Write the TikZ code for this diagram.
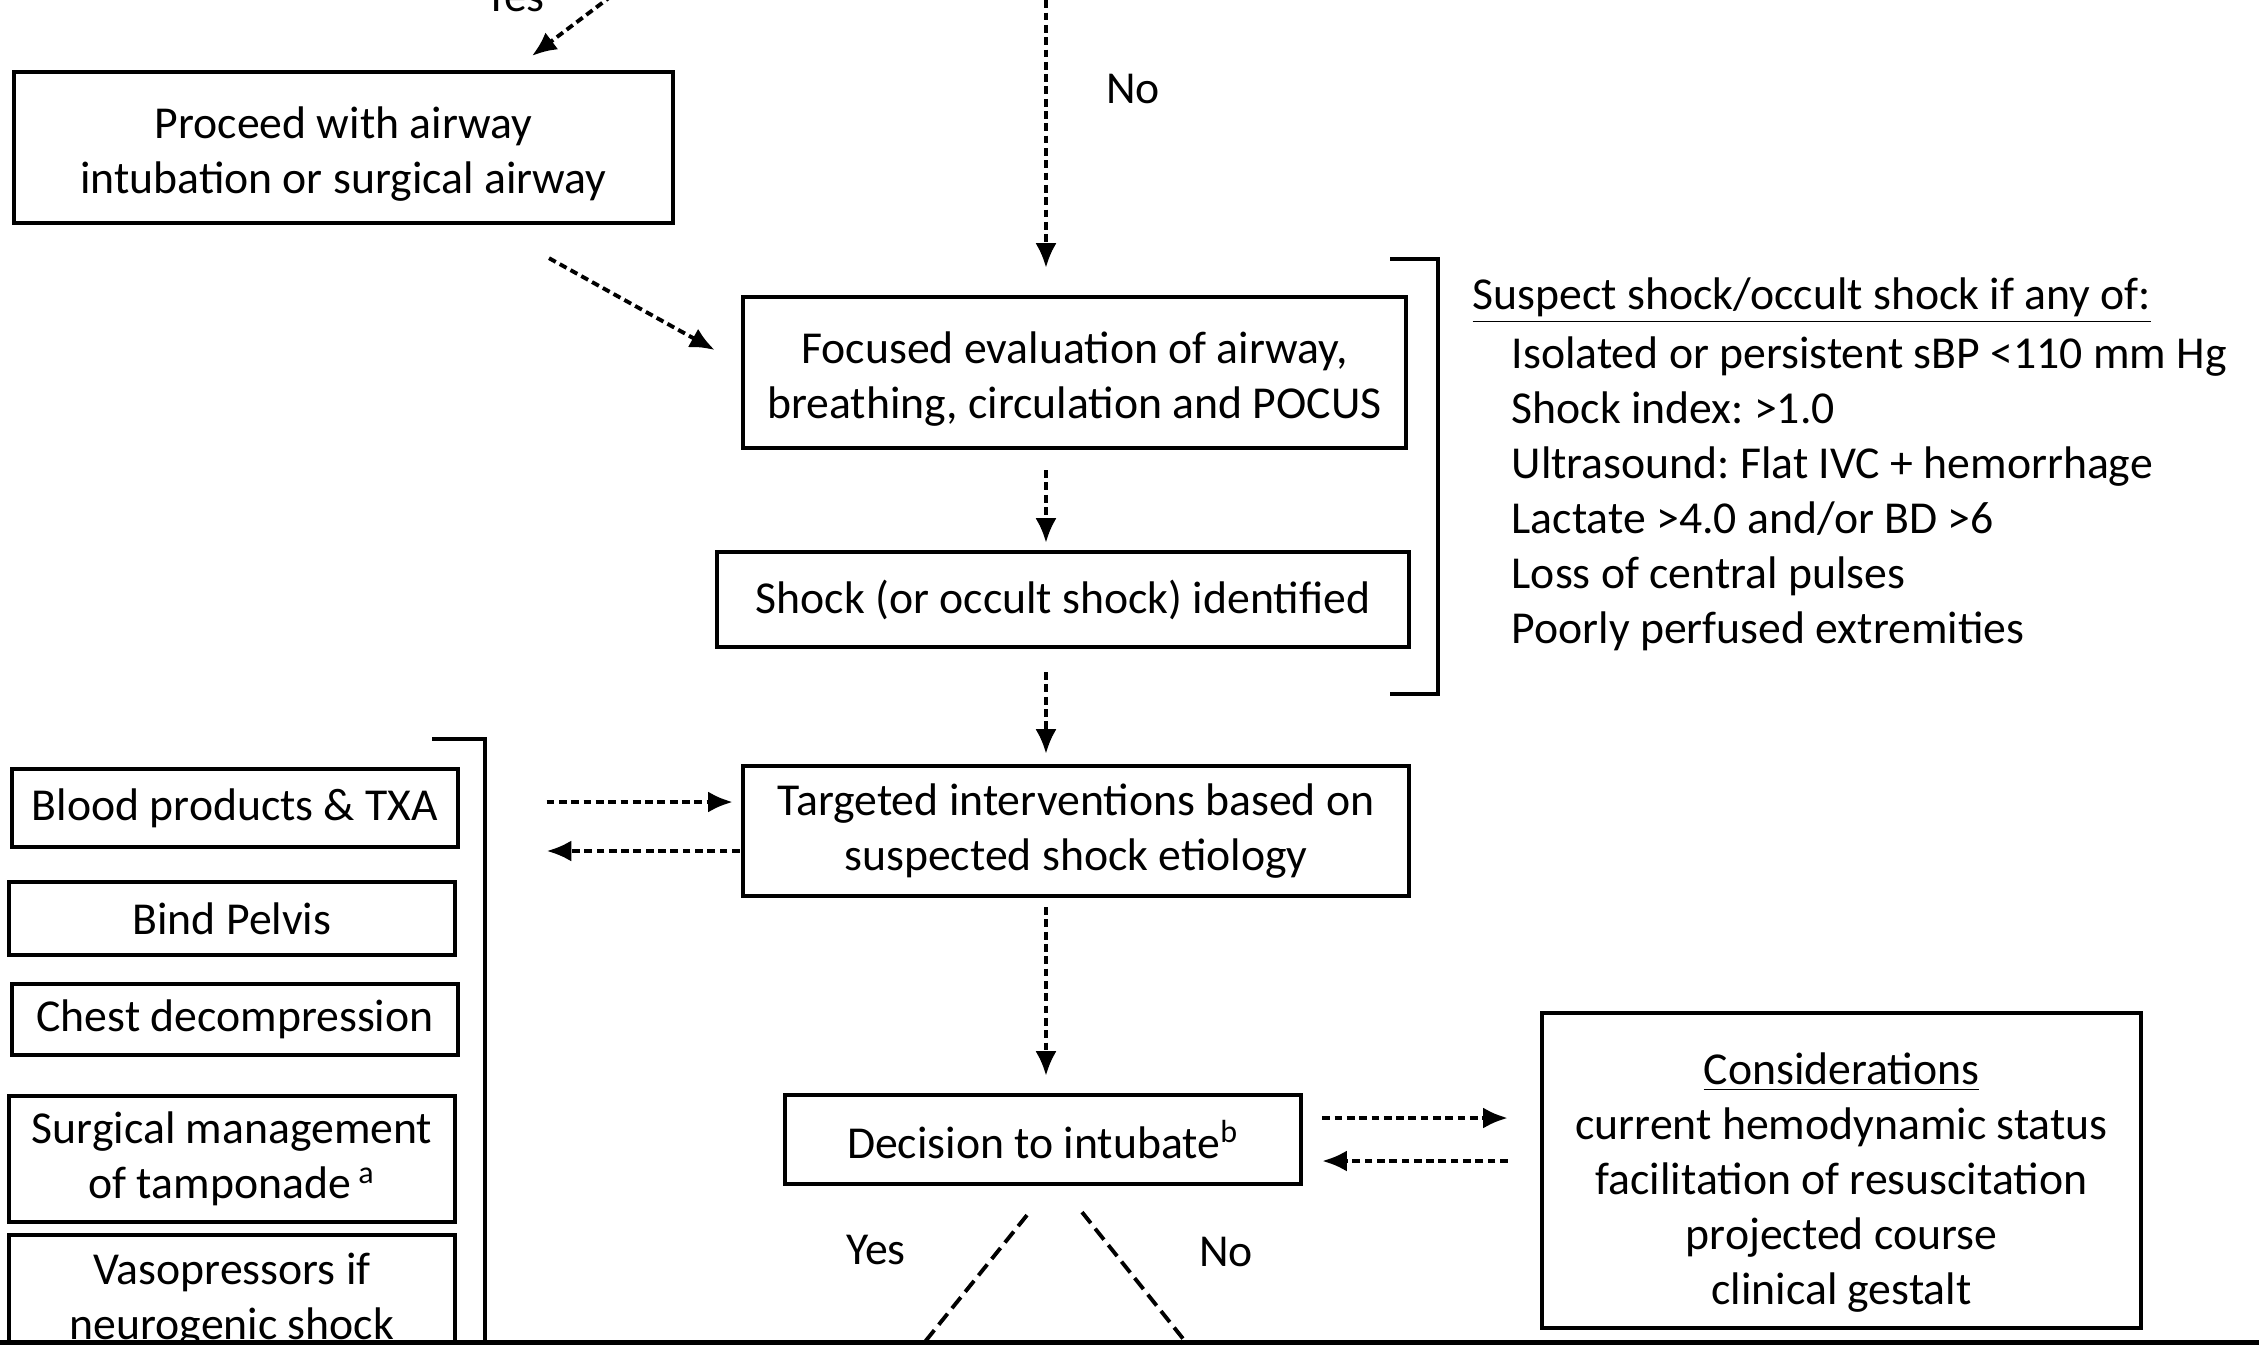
\documentclass[tikz,border=0pt]{standalone}
\usepackage{fontspec}
\setmainfont{Carlito}
\usetikzlibrary{arrows.meta,calc}
\frenchspacing

\begin{document}
\begin{tikzpicture}[x=0.01cm,y=-0.01cm,
    every node/.style={font=\fontsize{13}{15.65}\selectfont},
    box/.style={draw,line width=1.2pt,align=center,inner sep=0pt},
    link/.style={line width=1.1pt,dash pattern=on 2.2pt off 1.3pt,-{Latex[length=7pt,width=6pt]}},
    branch/.style={line width=1.1pt,dash pattern=on 4pt off 2pt},
    bracket/.style={line width=1.3pt}]
          \useasboundingbox (0,0) rectangle (2259,1345);
          \clip (0,0) rectangle (2259,1345);
          % main column
          \node[box,minimum width=6.59cm,minimum height=1.51cm] (prcd) at (343.5,147.5) {\rule{0pt}{0.45cm}Proceed with airway\\intubation or surgical airway};
          \node[box,minimum width=6.63cm,minimum height=1.51cm] (focus) at (1074.5,372.5) {\rule{0pt}{0.45cm}Focused evaluation of airway,\\breathing, circulation and POCUS};
          \node[box,minimum width=6.92cm,minimum height=0.95cm] (shock) at (1063,599.5) {Shock (or occult shock) identified};
          \node[box,minimum width=6.66cm,minimum height=1.30cm] (target) at (1076,831) {Targeted interventions based on\\suspected shock etiology};
          \node[box,minimum width=5.16cm,minimum height=0.89cm] (decide) at (1043,1139.5) {Decision to intubate\textsuperscript{b}};
          \node[box,minimum width=5.99cm,minimum height=3.15cm] (consid) at (1841.5,1170.5) {\rule{0pt}{0.55cm}\underline{Considerations}\\current hemodynamic status\\facilitation of resuscitation\\projected course\\clinical gestalt};
          % interventions
          \node[box,minimum width=4.46cm,minimum height=0.78cm] (blood) at (235,808) {Blood products \& TXA};
          \node[box,minimum width=4.46cm,minimum height=0.73cm] (pelvis) at (232,918.5) {Bind Pelvis};
          \node[box,minimum width=4.46cm,minimum height=0.71cm] (chest) at (235,1019.5) {Chest decompression};
          \node[box,minimum width=4.46cm,minimum height=1.26cm] (surg) at (232,1159) {Surgical management\\of tamponade\,\textsuperscript{a}};
          \node[box,minimum width=4.46cm,minimum height=1.30cm] (vaso) at (232,1300) {Vasopressors if\\neurogenic shock};
          % shock criteria
          \node[anchor=north west,align=left,inner sep=0pt] (suspect) at (1472,277) {\underline{Suspect shock/occult shock if any of:}\\[1pt]
            \hspace*{0.39cm}Isolated or persistent sBP <110 mm Hg\\
            \hspace*{0.39cm}Shock index: >1.0\\
            \hspace*{0.39cm}Ultrasound: Flat IVC + hemorrhage\\
            \hspace*{0.39cm}Lactate >4.0 and/or BD >6\\
            \hspace*{0.39cm}Loss of central pulses\\
            \hspace*{0.39cm}Poorly perfused extremities};
          % labels
          \node (yestoplbl) at (515,-3) {Yes};
          \node (notoplbl) at (1133,89) {No};
          \node (yeslbl) at (876,1250) {Yes};
          \node (nolbl) at (1226,1252) {No};
          % free ends
          \coordinate (yestop) at (622,-12);
          \coordinate (notop) at (1046,-12);
          \coordinate (yesend) at (870,1410);
          \coordinate (noend) at (1240,1410);
          % connectors
          \draw[link] (yestop) -- ($(prcd.north)+(188.5,-14)$);
          \draw[link,shorten >=0.27cm] (notop) -- (notop |- focus.north);
          \draw[link] ($(prcd.south)+(205.5,33)$) -- ($(focus.west)+(-26,-22.5)$);
          \draw[link,shorten <=0.2cm,shorten >=0.07cm] (focus.south -| notop) -- (shock.north -| notop);
          \draw[link,shorten <=0.23cm,shorten >=0.1cm] (shock.south -| notop) -- (target.north -| notop);
          \draw[link,shorten <=0.09cm,shorten >=0.17cm] (target.south -| notop) -- (decide.north -| notop);
          \draw[link] ($(target.west)+(-194,-29)$) -- ($(target.west)+(-8,-29)$);
          \draw[link] ($(target.west)+(-1,20)$) -- ($(target.west)+(-194,20)$);
          \draw[link] ($(decide.east)+(19,-21.5)$) -- ($(consid.west)+(-32,-52.5)$);
          \draw[link] ($(consid.west)+(-32,-9.5)$) -- ($(decide.east)+(19,21.5)$);
          \draw[branch] ($(decide.south)+(-16,29)$) -- (yesend);
          \draw[branch] ($(decide.south)+(39,26)$) -- (noend);
          % brackets
          \draw[bracket] (1390,259) -- (1438,259) -- (1438,694) -- (1390,694);
          \draw[bracket] (432,739) -- (485,739) -- (485,1400);
          \draw[line width=1.5pt] (0,1343) -- (2259,1343);
        \end{tikzpicture}
\end{document}
